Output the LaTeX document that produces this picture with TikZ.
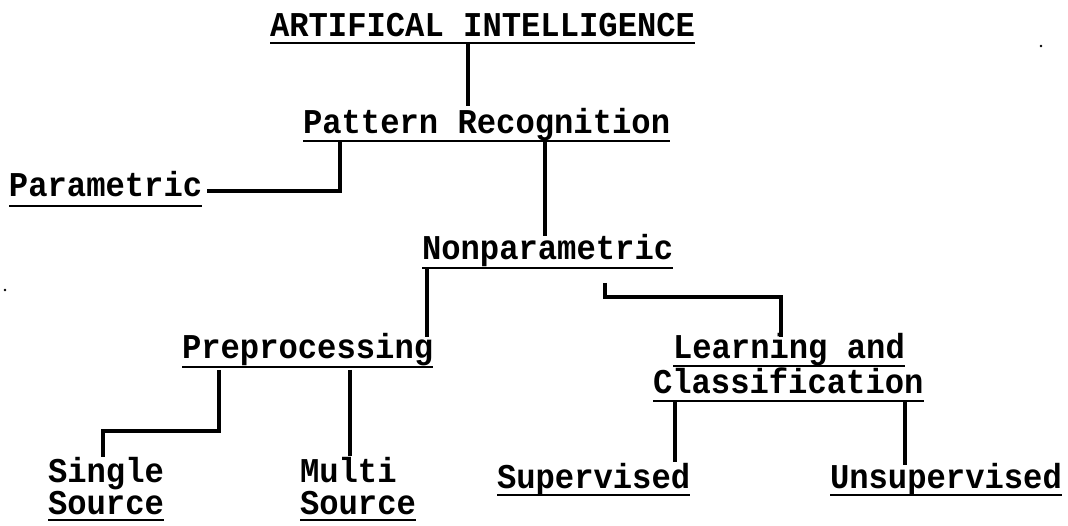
\documentclass[tikz,border=0pt]{standalone}
\usepackage{fontspec}
\newfontfamily\typewriter{Liberation Mono}
\newcommand{\typed}[1]{\scalebox{1}[1.08]{#1}}
\begin{document}
\begin{tikzpicture}[x=1pt,y=-1pt,
  label/.style={inner sep=0pt, outer sep=0pt, anchor=base west,
    font=\typewriter\bfseries\fontsize{32.2}{32.2}\selectfont},
  uline/.style={line width=2.7pt},
  link/.style={line width=3.3pt}]
\useasboundingbox (0,0) rectangle (1068,526);

% labels, placed by their baselines
\node[label] (ai)    at (270,37)  {\typed{ARTIFICAL INTELLIGENCE}};
\node[label] (pr)    at (303,134) {\typed{Pattern Recognition}};
\node[label] (par)   at (9,197)   {\typed{Parametric}};
\node[label] (npar)  at (422,260) {\typed{Nonparametric}};
\node[label] (pre)   at (182,359) {\typed{Preprocessing}};
\node[label] (learn) at (673,359) {\typed{Learning and}};
\node[label] (cls)   at (653,393) {\typed{Classification}};
\node[label] (sing)  at (48,482)  {\typed{Single}};
\node[label] (ssrc)  at (48,514)  {\typed{Source}};
\node[label] (mult)  at (300,482) {\typed{Multi}};
\node[label] (msrc)  at (300,514) {\typed{Source}};
\node[label] (sup)   at (497,488) {\typed{Supervised}};
\node[label] (unsup) at (830,488) {\typed{Unsupervised}};

% typed underlines
\foreach \n/\d in {ai/6,pr/7,par/9,npar/8,pre/8,learn/7,cls/8,ssrc/6,msrc/6,sup/7,unsup/7}
  \draw[uline] ([yshift=-\d pt]\n.base west) -- ([yshift=-\d pt]\n.base east);

% branch points
\coordinate (aiD) at (468,43);
\coordinate (prT) at (468,106);
\coordinate (prL) at (340,141);
\coordinate (prLc) at (340,191);
\coordinate (parE) at (207,191);
\coordinate (prR) at (545,141);
\coordinate (nparT) at (545,236);
\coordinate (npL) at (427,268);
\coordinate (preT) at (427,337);
\coordinate (npR) at (605,283);
\coordinate (npRc) at (605,297);
\coordinate (lrnC) at (781,297);
\coordinate (lrnT) at (781,337);
\coordinate (preL) at (219,370);
\coordinate (preLc) at (219,431);
\coordinate (sngC) at (103,431);
\coordinate (sngT) at (103,457);
\coordinate (preR) at (350,370);
\coordinate (mltT) at (350,456);
\coordinate (clsL) at (675,401);
\coordinate (supT) at (675,462);
\coordinate (clsR) at (905,401);
\coordinate (unsT) at (905,465);

% connectors
\draw[link] (aiD) -- (prT);
\draw[link] (prL) -- (prLc) -- (parE);
\draw[link] (prR) -- (nparT);
\draw[link] (npL) -- (preT);
\draw[link] (npR) -- (npRc) -- (lrnC) -- (lrnT);
\draw[link] (preL) -- (preLc) -- (sngC) -- (sngT);
\draw[link] (preR) -- (mltT);
\draw[link] (clsL) -- (supT);
\draw[link] (clsR) -- (unsT);

% stray specks on the sheet
\fill (1041,46) circle (1.3pt);
\fill (5,290) circle (1.3pt);
\end{tikzpicture}
\end{document}
